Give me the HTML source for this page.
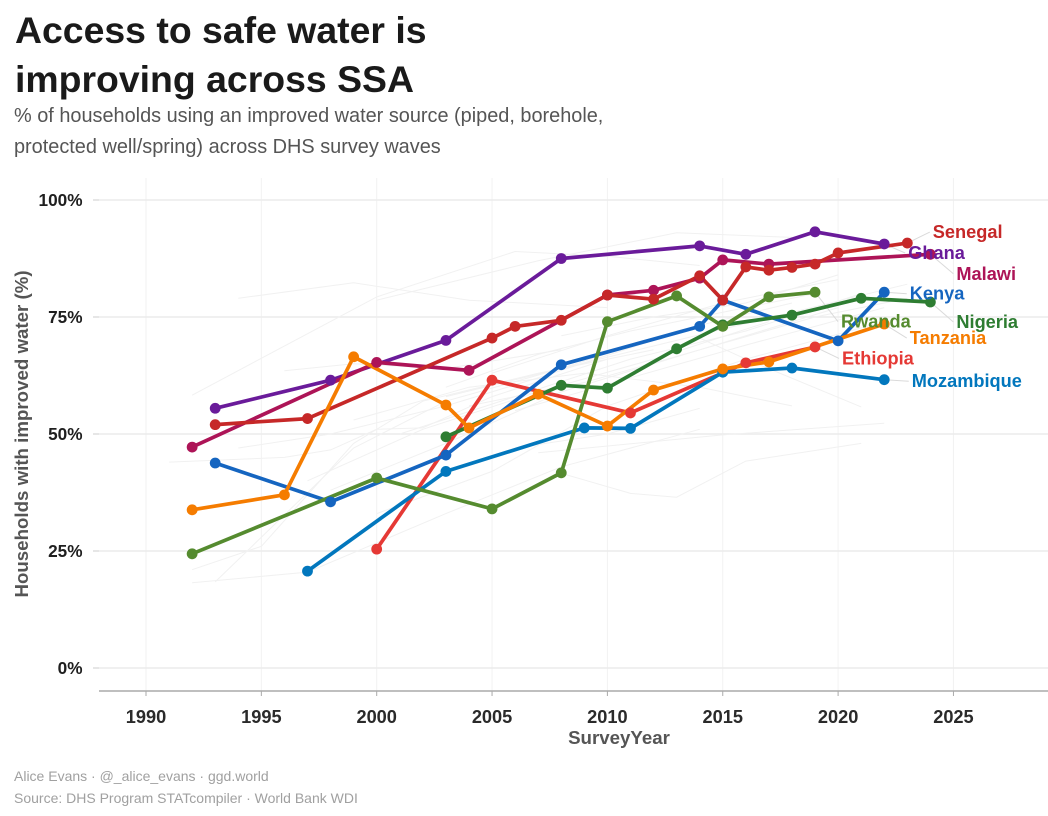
<!DOCTYPE html>
<html lang="en">
<head>
<meta charset="utf-8">
<title>Access to safe water is improving across SSA</title>
<style>
html,body{margin:0;padding:0;background:#fff;width:1048px;height:816px;overflow:hidden}
svg{display:block;font-family:"Liberation Sans",sans-serif}
</style>
</head>
<body>
<svg id="chart" width="1048" height="816" viewBox="0 0 1048 816" xmlns="http://www.w3.org/2000/svg">
  <rect width="1048" height="816" fill="#fff"/>
  <text x="15" y="43" font-size="37.4" font-weight="700" fill="#1a1a1a">Access to safe water is</text>
  <text x="15" y="92" font-size="37.4" font-weight="700" fill="#1a1a1a">improving across SSA</text>
  <text x="14" y="122" font-size="19.9" fill="#555">% of households using an improved water source (piped, borehole,</text>
  <text x="14" y="153" font-size="19.9" fill="#555">protected well/spring) across DHS survey waves</text>
  <g id="grid"></g>
  <g id="axes"></g>
  <g id="context"></g>
  <g id="connectors"></g>
  <g id="lines"></g>
  <g id="points"></g>
  <g id="labels"></g>
  <text transform="translate(28,434) rotate(-90)" text-anchor="middle" font-size="18.7" font-weight="700" fill="#555">Households with improved water (%)</text>
  <text x="619" y="744" text-anchor="middle" font-size="18.7" font-weight="700" fill="#555">SurveyYear</text>
  <text x="14" y="781" font-size="14" fill="#a0a0a0">Alice Evans · @_alice_evans · ggd.world</text>
  <text x="14" y="803" font-size="14" fill="#a0a0a0">Source: DHS Program STATcompiler · World Bank WDI</text>
</svg>
<script>
const xTickLabels = [1990, 1995, 2000, 2005, 2010, 2015, 2020, 2025];
const yTickLabels = [0, 25, 50, 75, 100];

const ethiopiaYears = [2000, 2005, 2011, 2016, 2019];
const ethiopiaValues = [25.4, 61.5, 54.5, 65.2, 68.6];
const ghanaYears = [1993, 1998, 2003, 2008, 2014, 2016, 2019, 2022];
const ghanaValues = [55.5, 61.5, 70, 87.5, 90.2, 88.4, 93.2, 90.6];
const kenyaYears = [1993, 1998, 2003, 2008, 2014, 2015, 2020, 2022];
const kenyaValues = [43.8, 35.5, 45.5, 64.8, 73, 78.6, 69.9, 80.3];
const malawiYears = [1992, 2000, 2004, 2010, 2012, 2014, 2015, 2017, 2024];
const malawiValues = [47.2, 65.3, 63.6, 79.7, 80.7, 83.3, 87.2, 86.3, 88.4];
const mozambiqueYears = [1997, 2003, 2009, 2011, 2015, 2018, 2022];
const mozambiqueValues = [20.7, 42, 51.3, 51.2, 63.2, 64.1, 61.6];
const nigeriaYears = [2003, 2008, 2010, 2013, 2015, 2018, 2021, 2024];
const nigeriaValues = [49.4, 60.4, 59.8, 68.2, 73.3, 75.4, 79, 78.2];
const rwandaYears = [1992, 2000, 2005, 2008, 2010, 2013, 2015, 2017, 2019];
const rwandaValues = [24.4, 40.6, 34, 41.7, 74, 79.5, 73, 79.3, 80.3];
const senegalYears = [1993, 1997, 2005, 2006, 2008, 2010, 2012, 2014, 2015, 2016, 2017, 2018, 2019, 2020, 2023];
const senegalValues = [52, 53.3, 70.5, 73, 74.3, 79.7, 78.8, 83.8, 78.6, 85.7, 85, 85.6, 86.3, 88.7, 90.8];
const tanzaniaYears = [1992, 1996, 1999, 2003, 2004, 2007, 2010, 2012, 2015, 2017, 2022];
const tanzaniaValues = [33.8, 37, 66.5, 56.2, 51.3, 58.5, 51.7, 59.4, 63.9, 65.4, 73.5];

const contextYears = [
  [1994, 1999, 2004, 2010],
  [1992, 2000, 2006, 2010, 2014],
  [2000, 2007, 2013, 2018],
  [1996, 1999, 2003, 2008],
  [1991, 1996, 1998, 2000, 2002, 2005, 2010],
  [1994, 1998, 2003, 2007, 2012],
  [1992, 1997, 2003, 2008, 2014],
  [1992, 1995, 1999, 2002, 2007, 2012],
  [1993, 1999, 2003, 2008, 2013, 2018],
  [2007, 2015, 2022],
  [2008, 2011, 2013, 2016, 2021],
  [2006, 2010, 2014],
  [2014, 2016, 2021],
  [1998, 2003, 2008, 2014, 2020],
  [2000, 2005, 2010, 2016, 2022],
  [2001, 2006, 2011, 2016, 2021],
  [2003, 2008, 2013, 2018, 2023],
  [1997, 2002, 2007, 2012, 2017],
  [2005, 2010, 2015, 2020],
  [2003, 2007, 2011, 2015, 2019],
  [2004, 2009, 2014, 2019, 2023],
  [1999, 2004, 2009, 2014, 2018],
  [2008, 2012, 2016, 2020],
  [2006, 2011, 2016, 2022]
];
const contextValues = [
  [79, 82.3, 78.6, 77],
  [58.3, 79.3, 89, 88, 86],
  [78.6, 87, 93, 92],
  [63.5, 65, 64, 68],
  [44, 45, 46.6, 51, 51.3, 58, 66],
  [47, 50, 56, 62, 70],
  [18.2, 20.5, 33, 43, 51],
  [21, 26, 48, 57, 63, 68],
  [18.4, 47, 57, 64, 72, 78],
  [46, 49.8, 52.3],
  [41.6, 37.3, 36.5, 44.2, 48],
  [47, 50, 55.5],
  [70.5, 66, 55.8],
  [38, 48, 59, 68, 77],
  [33, 42, 56, 66, 74],
  [50, 58, 66, 72, 80],
  [58, 64, 70, 76, 82],
  [40, 51, 59, 66, 74],
  [63, 71, 78, 83],
  [60, 67, 72, 76, 80],
  [56, 61, 68, 75, 79],
  [53, 60, 63, 60, 56],
  [71, 75, 78, 84],
  [55, 62, 69, 77]
];

const countryNames = ["Ethiopia", "Ghana", "Kenya", "Malawi", "Mozambique", "Nigeria", "Rwanda", "Senegal", "Tanzania"];
const countryYears = [ethiopiaYears, ghanaYears, kenyaYears, malawiYears, mozambiqueYears, nigeriaYears, rwandaYears, senegalYears, tanzaniaYears];
const countryValues = [ethiopiaValues, ghanaValues, kenyaValues, malawiValues, mozambiqueValues, nigeriaValues, rwandaValues, senegalValues, tanzaniaValues];

const colours = {Ethiopia:"#e53935",Ghana:"#6a1b9a",Kenya:"#1565c0",Malawi:"#ad1457",Mozambique:"#0277bd",Nigeria:"#2e7d32",Rwanda:"#558b2f",Senegal:"#c62828",Tanzania:"#f57c00"};
const labelShift = {Ethiopia:[27,17.5],Ghana:[24,15],Kenya:[25.5,7.5],Malawi:[26,25.5],Mozambique:[27.5,7.5],Nigeria:[26,26],Rwanda:[26,35.5],Senegal:[25.5,-5],Tanzania:[25.5,20]};

const NS = "http://www.w3.org/2000/svg";
const xScale = year => 146 + (year - 1990) * 23.07;
const yScale = value => 668 - value * 4.68;
const grid = document.getElementById("grid");
const axes = document.getElementById("axes");
const context = document.getElementById("context");
const connectors = document.getElementById("connectors");
const linesGroup = document.getElementById("lines");
const pointsGroup = document.getElementById("points");
const labelsGroup = document.getElementById("labels");

function make(tag, attrs, parent) {
  const el = document.createElementNS(NS, tag);
  for (const key in attrs) el.setAttribute(key, attrs[key]);
  parent.appendChild(el);
  return el;
}
function pathFor(years, values) {
  return years.map((y, i) => (i ? "L" : "M") + xScale(y).toFixed(1) + " " + yScale(values[i]).toFixed(1)).join(" ");
}

xTickLabels.forEach(year => {
  const x = xScale(year);
  const gridLine = make("line", {x1:x, x2:x, y1:178, y2:691, stroke:"#f2f2f2", "stroke-width":1}, grid);
  
  
  const tick = make("line", {x1:x, x2:x, y1:691, y2:696, stroke:"#aaa", "stroke-width":1}, axes);
  
  
  const label = make("text", {x:x, y:723, "text-anchor":"middle", "font-size":18.2, "font-weight":700, fill:"#2a2a2a"}, axes);
  label.textContent = year;
  
  
});
yTickLabels.forEach(value => {
  const y = yScale(value);
  const gridLine = make("line", {x1:99, x2:1048, y1:y, y2:y, stroke:"#ebebeb", "stroke-width":1.4}, grid);
  
  
  const tick = make("line", {x1:93, x2:99, y1:y, y2:y, stroke:"#ccc", "stroke-width":1}, axes);
  
  
  const label = make("text", {x:82.5, y:y + 6, "text-anchor":"end", "font-size":17.2, "font-weight":700, fill:"#1f1f1f"}, axes);
  label.textContent = value + "%";
  
  
});
const axisLine = make("line", {x1:99, x2:1048, y1:691, y2:691, stroke:"#aaa", "stroke-width":1.4}, axes);



contextYears.forEach((years, i) => {
  const line = make("path", {d:pathFor(years, contextValues[i]), fill:"none", stroke:"#f1f1f1", "stroke-width":1}, context);
  
  
});

countryNames.forEach((name, i) => {
  const line = make("path", {d:pathFor(countryYears[i], countryValues[i]), fill:"none", stroke:colours[name], "stroke-width":3.7, "stroke-linejoin":"round", "stroke-linecap":"round"}, linesGroup);
  
  
});
countryNames.forEach((name, i) => {
  countryYears[i].forEach((year, j) => {
    const dot = make("circle", {cx:xScale(year), cy:yScale(countryValues[i][j]), r:5.4, fill:colours[name]}, pointsGroup);
    
    
  });
});
countryNames.forEach((name, i) => {
  const years = countryYears[i], values = countryValues[i];
  const px = xScale(years[years.length - 1]);
  const py = yScale(values[values.length - 1]);
  const shift = labelShift[name];
  const connector = make("line", {x1:px, y1:py, x2:px + shift[0] - 3, y2:py + shift[1] - 6, stroke:"#dadada", "stroke-width":1}, connectors);
  
  
  const label = make("text", {x:px + shift[0], y:py + shift[1], "font-size":18.2, "font-weight":700, fill:colours[name]}, labelsGroup);
  label.textContent = name;
  
  
});
</script>
</body>
</html>
